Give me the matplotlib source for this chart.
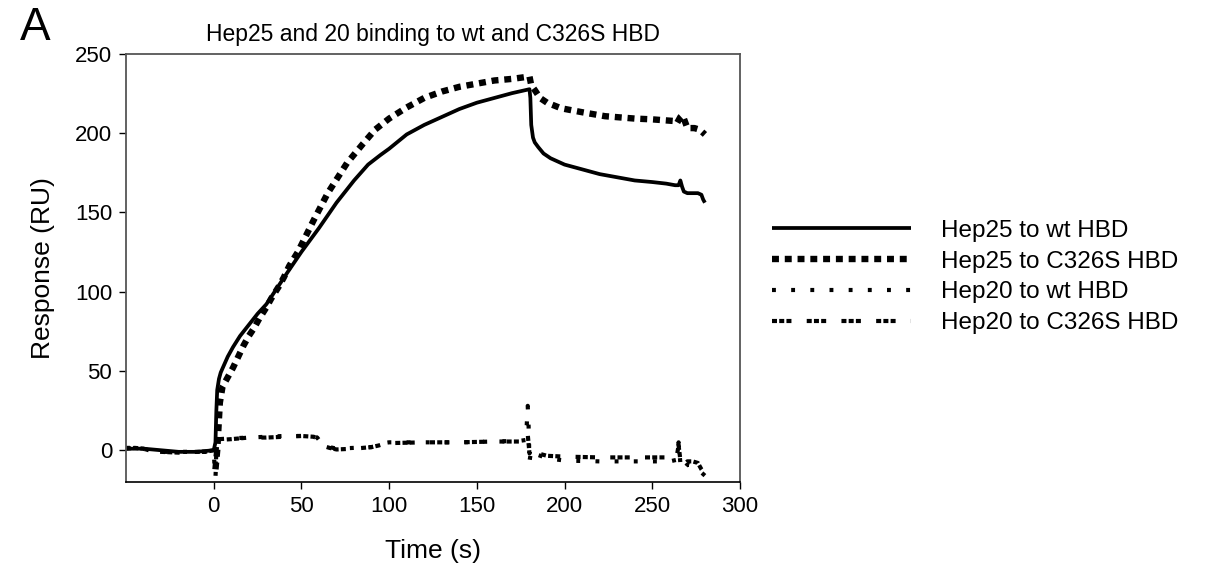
import matplotlib
matplotlib.use("Agg")
import matplotlib.pyplot as plt

plt.rcParams['font.family'] = ['Liberation Sans', 'DejaVu Sans']
plt.rcParams['lines.scale_dashes'] = False

# ---------------- data ----------------
t_wt25 = [-50, -40, -30, -20, -10, 0, 1, 1.5, 2, 3, 4, 6, 8, 11, 15, 20, 25, 30, 36,
          42, 50, 60, 70, 80, 88, 95, 100, 110, 120, 130, 140, 150, 160, 170, 180,
          180.5, 181, 182, 183, 185, 188, 192, 196, 200, 210, 220, 230, 240, 250, 258,
          263, 265, 266, 267, 268, 270, 273, 276, 278, 279, 280]
r_wt25 = [1, 1, 0, -1, -1, 0, 5, 25, 38, 45, 49, 54, 59, 65, 72, 79, 86, 92, 102,
          112, 125, 140, 156, 170, 180, 186, 190, 199, 205, 210, 215, 219, 222, 225, 227.5,
          222, 205, 197, 194, 191, 187, 184, 182, 180, 177, 174, 172, 170, 169, 168,
          167, 167, 170, 166, 163, 162, 162, 162, 161, 158, 156]

t_c25 = [1, 2, 2.5, 3, 3.5, 5, 8, 11, 14, 17, 20, 23, 26, 30, 33, 37, 40, 43, 48, 57, 65,
         76, 85, 92, 100, 110, 120, 130, 140, 150, 160, 170, 180, 181, 183, 186, 190,
         198, 210, 223, 240, 250, 262, 264, 266, 267, 268, 270, 274, 277, 280]
r_c25 = [-12, 0, 10, 20, 30, 40, 46, 52, 59, 66, 72, 77, 83, 90, 96, 103, 109, 116, 125, 145, 162,
         181, 193, 202, 209, 216, 222, 226, 229, 231, 233, 234, 235.5, 230, 227, 222, 219,
         215.5, 213, 210.5, 209, 208.5, 207.5, 206, 210, 211, 209, 203, 203, 202, 199]

t_wt20 = [-50, -45, -40, -37, -30, -20, -10, -5, 0, 0.5, 1, 1.5, 2, 3, 10, 20, 30, 40,
          50, 57, 59, 61, 63, 66, 70, 80, 90, 94, 97, 100, 120, 140, 160, 175, 178, 179,
          179.5, 180, 181, 182, 185, 190, 200, 220, 240, 260, 264, 265, 266, 267, 270,
          273, 276, 278, 280]
r_wt20 = [1.5, 1.5, 1.0, 0, -1, -1, -1, -1, -1, -10, -17, -5, 5, 7, 7.5, 8, 8.5, 9,
          9, 9, 8, 5, 3, 2, 1, 1.5, 2, 3, 4.5, 5, 5, 5, 5.5, 6, 6.5, 28,
          15, -7, 0, -2, -3, -5, -6.5, -7, -7, -7, -6, 5, -8, -13, -9,
          -10, -12, -14, -16]

t_c20 = [-50, -45, -40, -37, -30, -20, -10, -5, 0, 0.5, 1, 1.5, 2, 3, 10, 20, 30, 40,
         50, 57, 59, 61, 63, 66, 70, 80, 90, 94, 97, 100, 120, 140, 160, 175, 178, 179,
         180, 181, 182, 185, 190, 200, 220, 240, 260, 264, 265, 266, 267, 270,
         273, 276, 278, 280]
r_c20 = [1.0, 1.5, 1.0, -0.5, -1, -1.5, -1, -1, 0, -5, -10, -3, 4, 6.5, 7, 8, 8, 8.5,
         9, 8.5, 7.5, 4.5, 2.5, 1.5, 0.5, 1, 2, 3, 4, 4.5, 5, 5, 5.5, 5.5, 6, 10,
         -2, 1, -1, -2, -3.5, -4, -4.5, -4.5, -4.5, -3.5, 3, -6, -10, -7,
         -7, -8, -12, -15]

labels = ["Hep25 to wt HBD", "Hep25 to C326S HBD", "Hep20 to wt HBD", "Hep20 to C326S HBD"]
x_ticks = [0, 50, 100, 150, 200, 250, 300]
y_ticks = [0, 50, 100, 150, 200, 250]

# ---------------- figure ----------------
fig = plt.figure(figsize=(12.25, 5.71), dpi=100)
ax = fig.add_axes([126/1225, 1 - 482/571, (740 - 126)/1225, (482 - 53.5)/571])

h3, = ax.plot(t_wt20, r_wt20, color='black', lw=3.0, dash_capstyle='butt',
              dashes=(2.8, 11.0), label=labels[2])
h4, = ax.plot(t_c20, r_c20, color='black', lw=3.0, dash_capstyle='butt',
              dashes=(3.6, 1.6, 3.6, 1.6, 3.6, 11), label=labels[3])
h1, = ax.plot(t_wt25, r_wt25, color='black', lw=2.7, solid_capstyle='butt',
              solid_joinstyle='round', label=labels[0])
h2, = ax.plot(t_c25, r_c25, color='black', lw=4.6, dash_capstyle='butt',
              dashes=(5.0, 4.2), label=labels[1])

ax.set_xlim(-50, 300)
ax.set_ylim(-20, 250)
ax.set_xticks(x_ticks)
ax.set_yticks(y_ticks)
ax.tick_params(axis='both', direction='out', length=5, width=1, labelsize=16,
               colors='black', top=False, right=False, pad=5)
for s in ['top', 'right', 'left']:
    ax.spines[s].set_color('#555555')
    ax.spines[s].set_linewidth(1.3)
ax.spines['bottom'].set_color('black')
ax.spines['bottom'].set_linewidth(1.2)

ax.set_xlabel("Time (s)", fontsize=19, labelpad=16)
ax.set_ylabel("Response (RU)", fontsize=19, labelpad=14)
ax.set_title("Hep25 and 20 binding to wt and C326S HBD", fontsize=16.5, pad=9)

fig.text(20/1225, 1 - 28/571, "A", fontsize=33, ha='left', va='center')

leg = fig.legend([h1, h2, h3, h4], labels, loc='center left',
                 bbox_to_anchor=(772/1225, 1 - 277/571), bbox_transform=fig.transFigure,
                 frameon=False, fontsize=17.5, handlelength=5.7, handletextpad=1.25,
                 labelspacing=0.36, borderpad=0, borderaxespad=0)

fig.savefig("out.png", dpi=100)
